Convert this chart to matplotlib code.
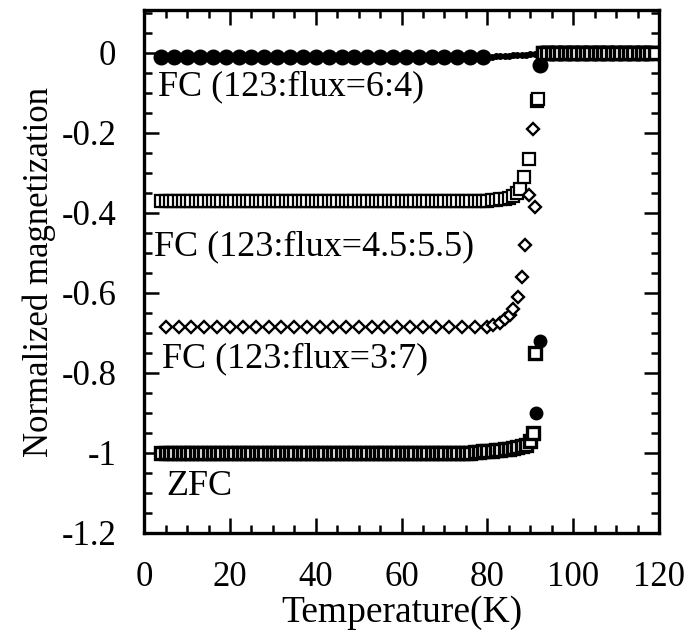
import matplotlib
matplotlib.use("Agg")
import matplotlib.pyplot as plt
from matplotlib.ticker import MultipleLocator

# FC 123:flux = 6:4  (filled circles)
fc64_t = [4, 7, 10, 13, 16, 19, 22, 25, 28, 31, 34, 37, 40, 43, 46, 49, 52,
          55, 58, 61, 64, 67, 70, 73, 76, 79, 92.3,
          93, 95, 97, 99, 101, 103, 105, 107, 109, 111, 113, 115, 117, 120]
fc64_m = [-0.01, -0.01, -0.01, -0.01, -0.01, -0.01, -0.01, -0.01, -0.01,
          -0.01, -0.01, -0.01, -0.01, -0.01, -0.01, -0.01, -0.01, -0.01,
          -0.01, -0.01, -0.01, -0.01, -0.01, -0.01, -0.01, -0.01, -0.03,
          0.0, 0.0, 0.0, 0.0, 0.0, 0.0, 0.0, 0.0, 0.0, 0.0, 0.0, 0.0, 0.0, 0.0]
# dense small points of the same run near Tc
fc64_fine_t = [80, 81, 82, 83, 84, 85, 86, 87, 88, 89, 90, 91]
fc64_fine_m = [-0.009, -0.009, -0.008, -0.008, -0.007, -0.007, -0.006,
               -0.006, -0.005, -0.004, -0.003, -0.002]

# FC 123:flux = 4.5:5.5  (open squares)
fc455_t = [4, 5, 6, 7, 8, 9, 10, 11, 12, 13, 14, 15, 16, 17, 18, 19, 20,
           21, 22, 23, 24, 25, 26, 27, 28, 29, 30, 31, 32, 33, 34, 35, 36,
           37, 38, 39, 40, 41, 42, 43, 44, 45, 46, 47, 48, 49, 50, 51, 52,
           53, 54, 55, 56, 57, 58, 59, 60, 61, 62, 63, 64, 65, 66, 67, 68,
           69, 70, 71, 72, 73, 74, 75, 76, 77, 78, 79, 80, 81, 82, 83, 84,
           85, 86, 87, 87.6, 88.6, 89.7, 91.6, 91.9,
           93, 94, 95, 96, 97, 98, 99, 100, 101, 102, 103, 104, 105, 106,
           107, 108, 109, 110, 111, 112, 113, 114, 115, 116, 117, 118, 119]
fc455_m = [-0.37, -0.37, -0.37, -0.37, -0.37, -0.37, -0.37, -0.37, -0.37,
           -0.37, -0.37, -0.37, -0.37, -0.37, -0.37, -0.37, -0.37, -0.37,
           -0.37, -0.37, -0.37, -0.37, -0.37, -0.37, -0.37, -0.37, -0.37,
           -0.37, -0.37, -0.37, -0.37, -0.37, -0.37, -0.37, -0.37, -0.37,
           -0.37, -0.37, -0.37, -0.37, -0.37, -0.37, -0.37, -0.37, -0.37,
           -0.37, -0.37, -0.37, -0.37, -0.37, -0.37, -0.37, -0.37, -0.37,
           -0.37, -0.37, -0.37, -0.37, -0.37, -0.37, -0.37, -0.37, -0.37,
           -0.37, -0.37, -0.37, -0.37, -0.37, -0.37, -0.37, -0.37, -0.37,
           -0.37, -0.37, -0.37, -0.37, -0.369, -0.368, -0.367, -0.366, -0.365,
           -0.362, -0.358, -0.35, -0.34, -0.31, -0.265, -0.12, -0.115,
           0.0, 0.0, 0.0, 0.0, 0.0, 0.0, 0.0, 0.0, 0.0, 0.0, 0.0, 0.0, 0.0,
           0.0, 0.0, 0.0, 0.0, 0.0, 0.0, 0.0, 0.0, 0.0, 0.0, 0.0, 0.0, 0.0, 0.0]

# FC 123:flux = 3:7  (open diamonds)
fc37_t = [5, 8, 11, 14, 17, 20, 23, 26, 29, 32, 35, 38, 41, 44, 47, 50, 53,
          56, 59, 62, 65, 68, 71, 74, 77, 80,
          81.4, 83, 84.2, 85.2, 86, 87.1, 88.1, 88.8, 89.8, 91.0, 90.7,
          94, 97, 100, 103, 106, 109, 112, 115, 118]
fc37_m = [-0.685, -0.685, -0.685, -0.685, -0.685, -0.685, -0.685, -0.685,
          -0.685, -0.685, -0.685, -0.685, -0.685, -0.685, -0.685, -0.685,
          -0.685, -0.685, -0.685, -0.685, -0.685, -0.685, -0.685, -0.685,
          -0.685, -0.685,
          -0.68, -0.675, -0.665, -0.655, -0.64, -0.61, -0.56, -0.48, -0.355,
          -0.385, -0.19,
          0.0, 0.0, 0.0, 0.0, 0.0, 0.0, 0.0, 0.0, 0.0]

# ZFC  (squares, dense)
zfc_t = [4, 5, 6, 7, 8, 9, 10, 11, 12, 13, 14, 15, 16, 17, 18, 19, 20, 21,
         22, 23, 24, 25, 26, 27, 28, 29, 30, 31, 32, 33, 34, 35, 36, 37, 38,
         39, 40, 41, 42, 43, 44, 45, 46, 47, 48, 49, 50, 51, 52, 53, 54, 55,
         56, 57, 58, 59, 60, 61, 62, 63, 64, 65, 66, 67, 68, 69, 70, 71, 72,
         73, 74, 75, 76, 77, 78, 79, 80, 81, 82, 83, 84, 85, 86, 87, 88, 89,
         90, 90.7, 91.1,
         93, 94, 95, 96, 97, 98, 99, 100, 101, 102, 103, 104, 105, 106, 107,
         108, 109, 110, 111, 112, 113, 114, 115, 116, 117, 118, 119]
zfc_m = [-1.0, -1.0, -1.0, -1.0, -1.0, -1.0, -1.0, -1.0, -1.0, -1.0, -1.0,
         -1.0, -1.0, -1.0, -1.0, -1.0, -1.0, -1.0, -1.0, -1.0, -1.0, -1.0,
         -1.0, -1.0, -1.0, -1.0, -1.0, -1.0, -1.0, -1.0, -1.0, -1.0, -1.0,
         -1.0, -1.0, -1.0, -1.0, -1.0, -1.0, -1.0, -1.0, -1.0, -1.0, -1.0,
         -1.0, -1.0, -1.0, -1.0, -1.0, -1.0, -1.0, -1.0, -1.0, -1.0, -1.0,
         -1.0, -1.0, -1.0, -1.0, -1.0, -1.0, -1.0, -1.0, -1.0, -1.0, -1.0,
         -1.0, -1.0, -1.0, -1.0, -1.0, -1.0, -0.999, -0.998, -0.997, -0.996,
         -0.995, -0.994, -0.993, -0.992, -0.991, -0.99, -0.988, -0.986,
         -0.983, -0.98, -0.97, -0.95, -0.75,
         0.0, 0.0, 0.0, 0.0, 0.0, 0.0, 0.0, 0.0, 0.0, 0.0, 0.0, 0.0, 0.0,
         0.0, 0.0, 0.0, 0.0, 0.0, 0.0, 0.0, 0.0, 0.0, 0.0, 0.0, 0.0, 0.0, 0.0]
# filled points of the ZFC transition
zfc_dot_t = [91.4, 92.3]
zfc_dot_m = [-0.90, -0.72]

labels = ["FC (123:flux=6:4)", "FC (123:flux=4.5:5.5)",
          "FC (123:flux=3:7)", "ZFC"]
label_x = [3.2, 2.3, 4.2, 5.2]
label_y = [-0.105, -0.505, -0.785, -1.105]

plt.rcParams["font.family"] = ["Liberation Serif", "DejaVu Serif"]

fig = plt.figure(figsize=(6.9, 6.36), dpi=100)
ax = fig.add_axes([0.209, 0.162, 0.746, 0.822])

ax.plot(fc64_t, fc64_m, "o", color="black", ms=10.5, mec="black")
ax.plot(fc64_fine_t, fc64_fine_m, "o", color="black", ms=4)
ax.plot(fc455_t, fc455_m, "s", mfc="white", mec="black", ms=8, mew=1.6)
ax.plot(fc37_t, fc37_m, "D", mfc="white", mec="black", ms=6.5, mew=1.7)
ax.plot(zfc_t, zfc_m, "s", mfc="white", mec="black", ms=8, mew=2.4)
ax.plot(zfc_dot_t, zfc_dot_m, "o", color="black", ms=9)

for txt, x, y in zip(labels, label_x, label_y):
    ax.text(x, y, txt, fontsize=26, va="baseline", ha="left")

ax.set_xlim(0, 120)
ax.set_ylim(-1.2, 0.107)
ax.xaxis.set_major_locator(MultipleLocator(20))
ax.xaxis.set_minor_locator(MultipleLocator(5))
ax.yaxis.set_minor_locator(MultipleLocator(0.05))
ax.set_yticks([0, -0.2, -0.4, -0.6, -0.8, -1.0, -1.2])
ax.set_yticklabels(["0", "-0.2", "-0.4", "-0.6", "-0.8", "-1", "-1.2"])

ax.tick_params(which="both", direction="in", top=True, right=True,
               labelsize=25, width=1.8)
ax.tick_params(which="major", length=11)
ax.tick_params(which="minor", length=6)
ax.tick_params(axis="x", which="major", pad=20)
ax.tick_params(axis="y", which="major", pad=20)
for spine in ax.spines.values():
    spine.set_linewidth(2.4)

ax.set_xlabel("Temperature(K)", fontsize=27, labelpad=1)
ax.set_ylabel("Normalized magnetization", fontsize=25, labelpad=4)

fig.savefig("out.png", dpi=100)
